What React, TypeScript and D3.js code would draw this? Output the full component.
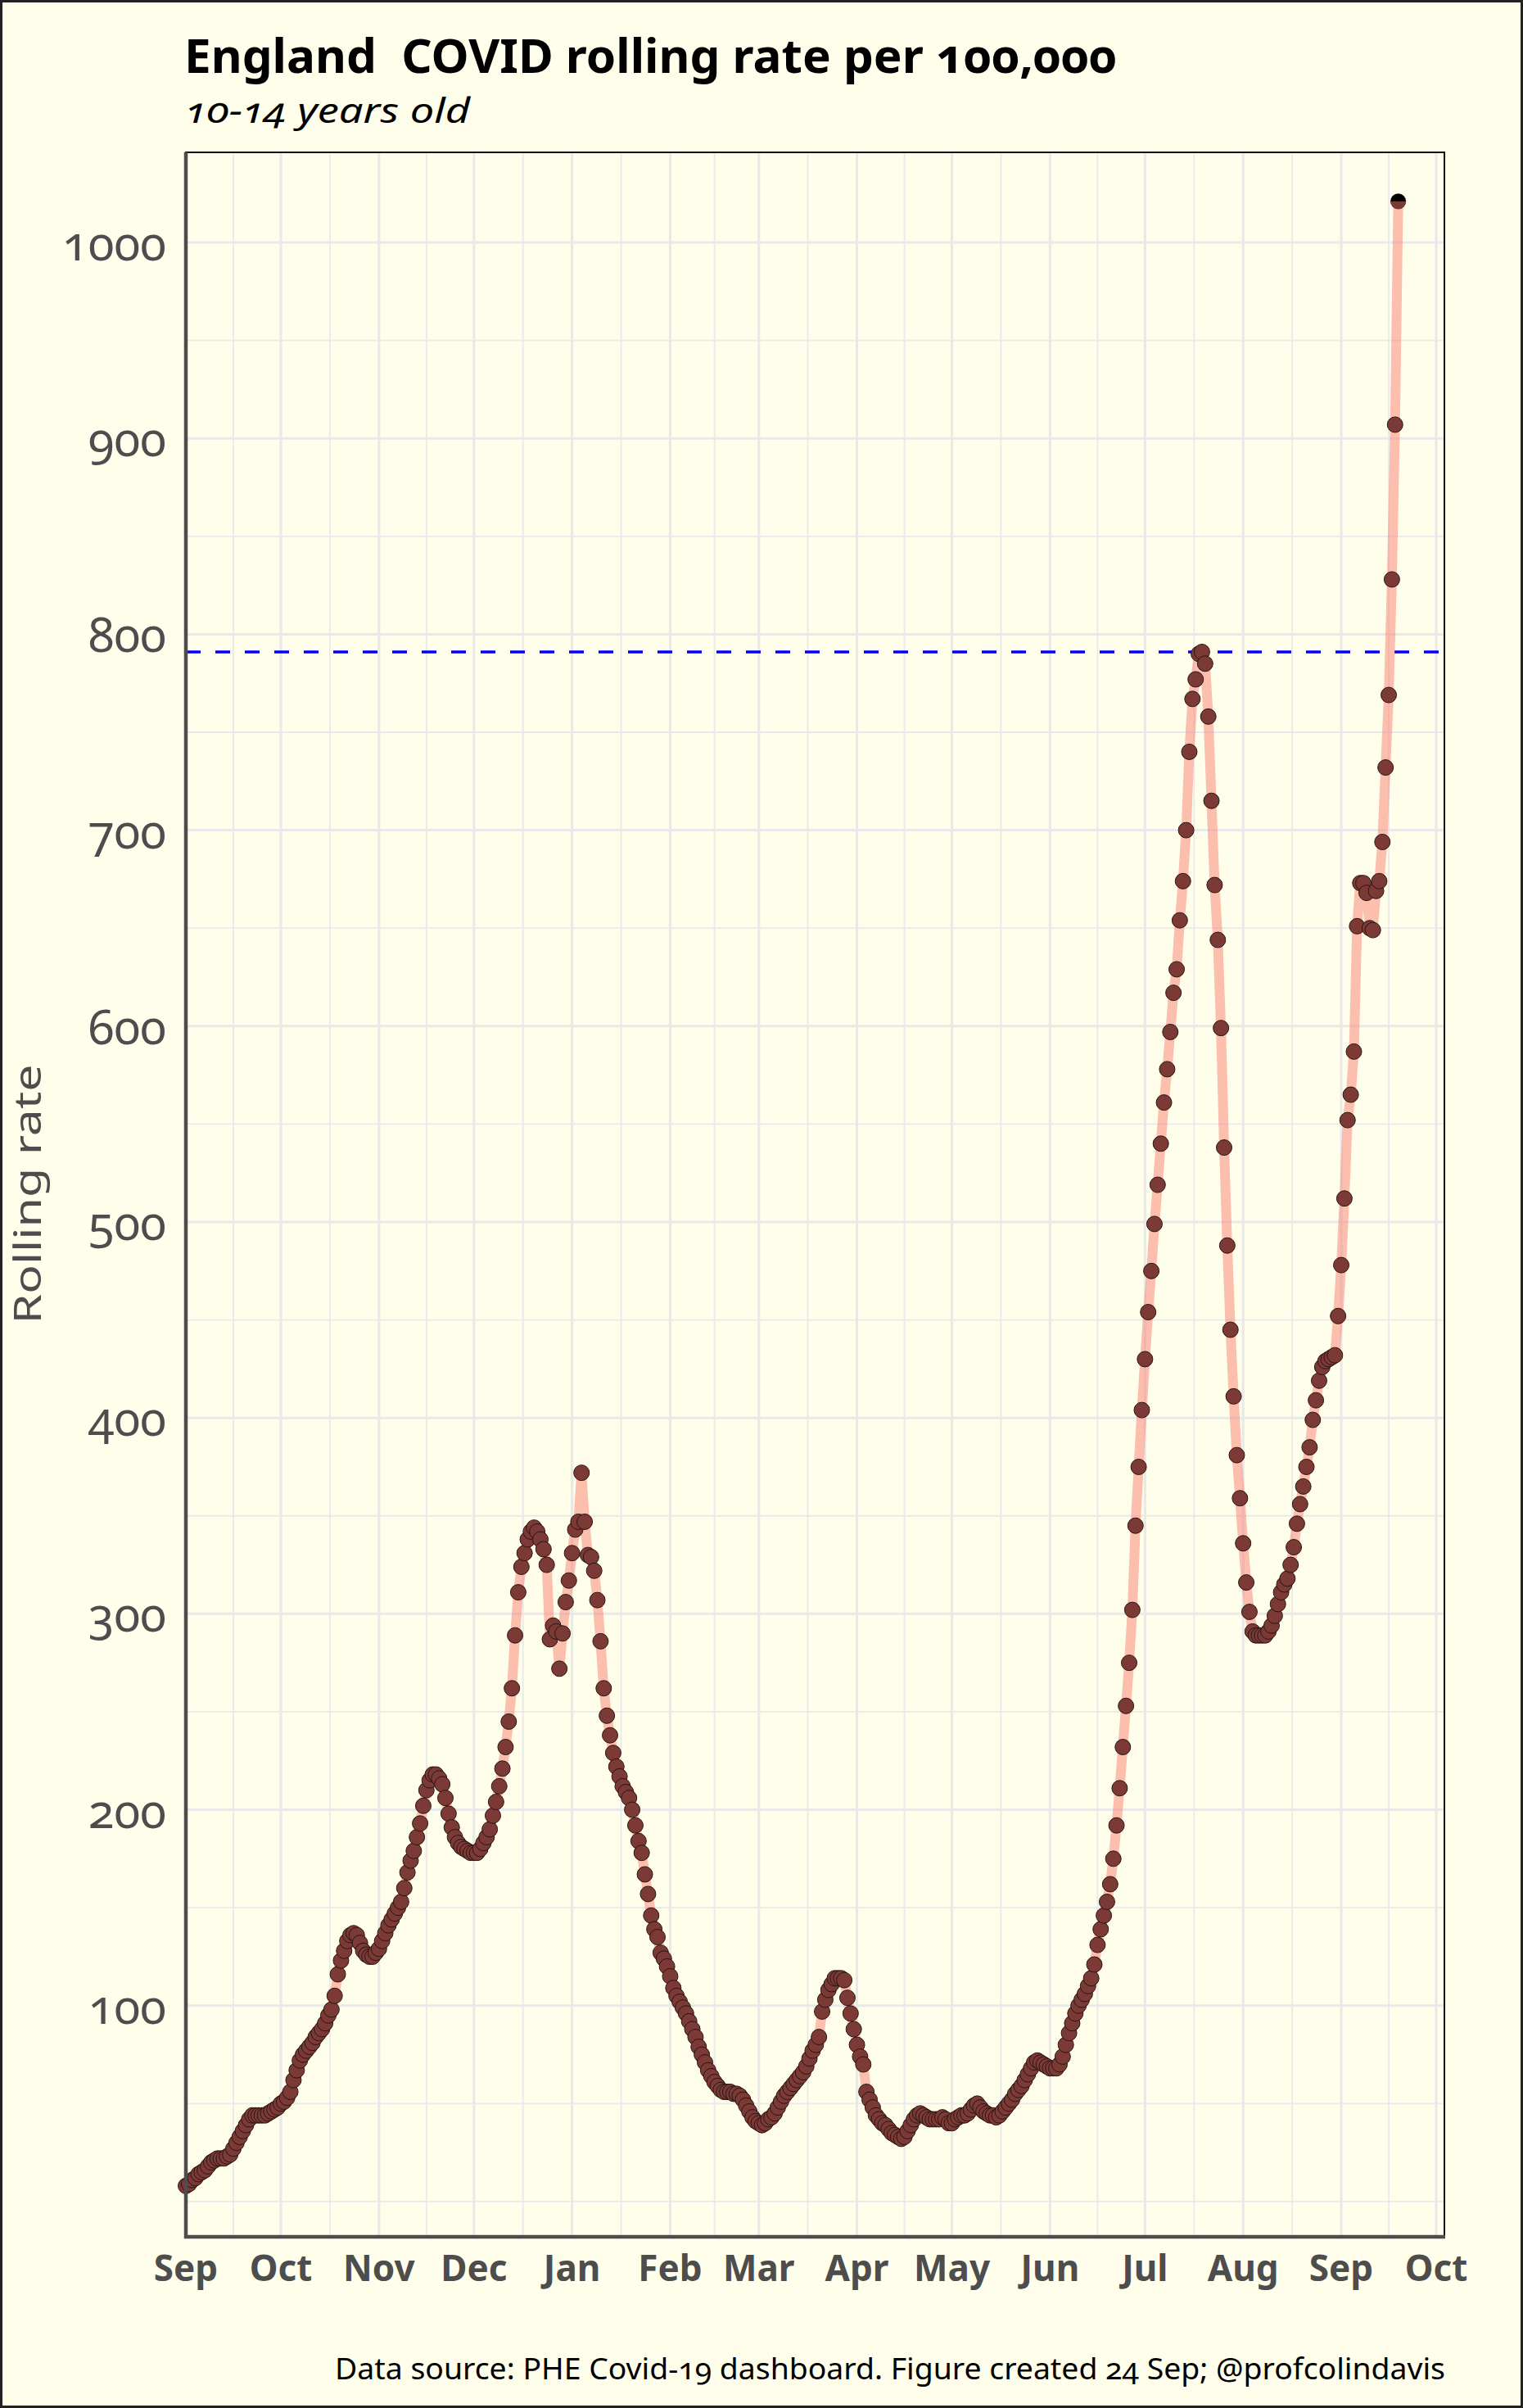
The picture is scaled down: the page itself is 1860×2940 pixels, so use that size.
import React, { useEffect } from "react";
import * as d3 from "d3";

// ---------------- data ----------------
const startDate = "2020-09-01"; // first daily value
const rollingRate: number[] = [
  8, 9, 11, 12, 14, 15, 16, 18, 20, 21,
  22, 22, 22, 23, 24, 27, 30, 33, 36, 39,
  42, 44, 44, 44, 44, 44, 45, 46, 47, 48,
  50, 51, 53, 56, 62, 67, 72, 75, 77, 79,
  81, 84, 86, 88, 91, 95, 98, 105, 116, 123,
  128, 133, 136, 137, 136, 132, 128, 126, 125, 125,
  127, 129, 133, 137, 141, 144, 147, 150, 153, 160,
  168, 174, 179, 186, 193, 202, 210, 215, 218, 218,
  216, 213, 206, 198, 191, 186, 183, 181, 180, 179,
  178, 178, 178, 180, 183, 186, 190, 197, 204, 212,
  221, 232, 245, 262, 289, 311, 324, 331, 338, 342,
  344, 342, 338, 333, 325, 287, 294, 291, 272, 290,
  306, 317, 331, 343, 347, 372, 347, 330, 329, 322,
  307, 286, 262, 248, 238, 229, 222, 217, 212, 209,
  206, 200, 192, 184, 178, 167, 157, 146, 139, 135,
  127, 124, 120, 115, 109, 105, 102, 99, 96, 92,
  88, 84, 79, 75, 71, 67, 64, 61, 59, 57,
  56, 56, 56, 55, 55, 54, 52, 49, 46, 43,
  41, 40, 39, 40, 42, 43, 45, 48, 51, 54,
  56, 58, 60, 62, 64, 66, 69, 73, 77, 80,
  84, 97, 103, 108, 111, 114, 114, 114, 113, 104,
  96, 88, 80, 74, 70, 56, 52, 48, 44, 42,
  40, 39, 37, 35, 34, 33, 32, 33, 36, 39,
  42, 44, 45, 44, 43, 42, 42, 42, 42, 43,
  42, 40, 40, 42, 43, 44, 44, 45, 47, 49,
  50, 48, 46, 45, 44, 44, 43, 44, 46, 48,
  50, 52, 55, 57, 59, 62, 65, 68, 71, 72,
  71, 70, 69, 68, 68, 68, 70, 74, 80, 86,
  91, 96, 100, 103, 106, 110, 114, 121, 131, 139,
  146, 153, 162, 175, 192, 211, 232, 253, 275, 302,
  345, 375, 404, 430, 454, 475, 499, 519, 540, 561,
  578, 597, 617, 629, 654, 674, 700, 740, 767, 777,
  790, 791, 785, 758, 715, 672, 644, 599, 538, 488,
  445, 411, 381, 359, 336, 316, 301, 291, 289, 289,
  289, 289, 291, 294, 299, 305, 311, 315, 318, 325,
  334, 346, 356, 365, 375, 385, 399, 409, 419, 426,
  429, 430, 431, 432, 452, 478, 512, 552, 565, 587,
  651, 673, 673, 668, 650, 649, 669, 674, 694, 732,
  769, 828, 907, 1021,
];
const referenceRate = 791; // previous (July) peak
const yBreaks = [100, 200, 300, 400, 500, 600, 700, 800, 900, 1000];
const yMinorBreaks = [0, 50, 150, 250, 350, 450, 550, 650, 750, 850, 950];
const monthLabels = ["Sep", "Oct", "Nov", "Dec", "Jan", "Feb", "Mar", "Apr", "May", "Jun", "Jul", "Aug", "Sep", "Oct"];

const titleText = "England  COVID rolling rate per 100,000";
const subtitleText = "10-14 years old";
const yTitleText = "Rolling rate";
const captionText = "Data source: PHE Covid-19 dashboard. Figure created 24 Sep; @profcolindavis";

// ---------------- layout ----------------
const W = 1860;
const H = 2940;
const P = { left: 227, right: 1764, top: 186, bottom: 2731 };
const BG = "#FFFEEB";
const GRID = "#E9E9EA";
const AXIS_GREY = "#4D4D4D";
const FONT = "'Noto Sans', 'DejaVu Sans', sans-serif";

export default function App() {
  useEffect(() => {
    document.body.style.margin = "0";
  }, []);

  const t0 = new Date(startDate + "T00:00:00Z");
  const dates = rollingRate.map((_, i) => d3.utcDay.offset(t0, i));
  const data = rollingRate.map((v, i) => ({ date: dates[i], value: v }));

  const x = d3
    .scaleUtc()
    .domain([t0, new Date(Date.UTC(2021, 9, 3, 14))])
    .range([P.left, P.right]);
  const y = d3.scaleLinear().domain([-18, 1046]).range([P.bottom, P.top]);

  const monthTicks = d3.utcMonth.range(t0, new Date(Date.UTC(2021, 9, 2)));
  const minorX = monthTicks.slice(0, -1).map((d, i) => new Date((d.getTime() + monthTicks[i + 1].getTime()) / 2));

  const line = d3
    .line<{ date: Date; value: number }>()
    .x((d) => x(d.date))
    .y((d) => y(d.value));

  const last = data[data.length - 1];
  const lx = x(last.date);
  const ly = y(last.value);
  const r = 9.5;

  return (
    <svg
      width={W}
      height={H}
      viewBox={`0 0 ${W} ${H}`}
      style={{ display: "block", position: "absolute", left: 0, top: 0 }}
      fontFamily={FONT}
    >
      <rect x={1.5} y={1.5} width={W - 3} height={H - 3} fill={BG} stroke="#222" strokeWidth={3} />

      {/* grid */}
      <g>
        {yMinorBreaks.map((v) => (
          <line key={"ym" + v} x1={P.left} x2={P.right} y1={y(v)} y2={y(v)} stroke={GRID} strokeWidth={1.8} />
        ))}
        {minorX.map((d, i) => (
          <line key={"xm" + i} x1={x(d)} x2={x(d)} y1={P.top} y2={P.bottom} stroke={GRID} strokeWidth={1.8} />
        ))}
        {yBreaks.map((v) => (
          <line key={"y" + v} x1={P.left} x2={P.right} y1={y(v)} y2={y(v)} stroke={GRID} strokeWidth={3} />
        ))}
        {monthTicks.map((d, i) => (
          <line key={"x" + i} x1={x(d)} x2={x(d)} y1={P.top} y2={P.bottom} stroke={GRID} strokeWidth={3.2} />
        ))}
      </g>

      {/* reference line */}
      <line
        x1={P.left}
        x2={P.right}
        y1={y(referenceRate)}
        y2={y(referenceRate)}
        stroke="#0000FF"
        strokeWidth={3.5}
        strokeDasharray="18 18"
      />

      {/* line + points */}
      <path d={line(data) || ""} fill="none" stroke="rgb(250,128,114)" strokeOpacity={0.5} strokeWidth={12} strokeLinejoin="round" />
      <g>
        {data.slice(0, -1).map((d, i) => (
          <circle key={i} cx={x(d.date)} cy={y(d.value)} r={r} fill="#7B3A35" stroke="#2A1512" strokeWidth={1} />
        ))}
      </g>
      <circle cx={lx} cy={ly} r={r} fill="#000" />
      <path d={`M${lx - r},${ly} A${r},${r} 0 0 0 ${lx + r},${ly} Z`} fill="#7B3A35" />

      {/* panel border & axes */}
      <rect x={P.left} y={P.top} width={P.right - P.left} height={P.bottom - P.top} fill="none" stroke="#111" strokeWidth={2} />
      <line x1={P.left} x2={P.left} y1={P.top} y2={P.bottom + 2} stroke={AXIS_GREY} strokeWidth={4.5} />
      <line x1={P.left - 2} x2={P.right + 1} y1={P.bottom} y2={P.bottom} stroke={AXIS_GREY} strokeWidth={4.5} />

      {/* y labels */}
      <g fill={AXIS_GREY} fontSize={58} textAnchor="end" style={{ fontVariantNumeric: "oldstyle-nums" }}>
        {yBreaks.map((v) => (
          <text key={v} x={203} y={y(v) + 22}>
            {v}
          </text>
        ))}
      </g>

      {/* x labels */}
      <g fill={AXIS_GREY} fontSize={44} fontWeight="bold" textAnchor="middle">
        {monthTicks.map((d, i) => (
          <text key={i} x={x(d)} y={2785}>
            {monthLabels[i]}
          </text>
        ))}
      </g>

      {/* y title */}
      <text
        transform={`translate(50,1458) rotate(-90)`}
        textAnchor="middle"
        fontSize={46}
        fill={AXIS_GREY}
        textLength={317}
        lengthAdjust="spacingAndGlyphs"
      >
        {yTitleText}
      </text>

      {/* titles */}
      <text
        x={225}
        y={89}
        fontSize={57}
        fontWeight="bold"
        fill="#000"
        textLength={1139}
        lengthAdjust="spacingAndGlyphs"
        style={{ fontVariantNumeric: "oldstyle-nums", whiteSpace: "pre" }}
      >
        {titleText}
      </text>
      <text
        x={226}
        y={150}
        fontSize={42}
        fontStyle="italic"
        fill="#000"
        textLength={348}
        lengthAdjust="spacingAndGlyphs"
        style={{ fontVariantNumeric: "oldstyle-nums" }}
      >
        {subtitleText}
      </text>

      {/* caption */}
      <text
        x={1765}
        y={2905}
        fontSize={37}
        fill="#000"
        textAnchor="end"
        textLength={1356}
        lengthAdjust="spacingAndGlyphs"
        style={{ fontVariantNumeric: "oldstyle-nums" }}
      >
        {captionText}
      </text>
    </svg>
  );
}
